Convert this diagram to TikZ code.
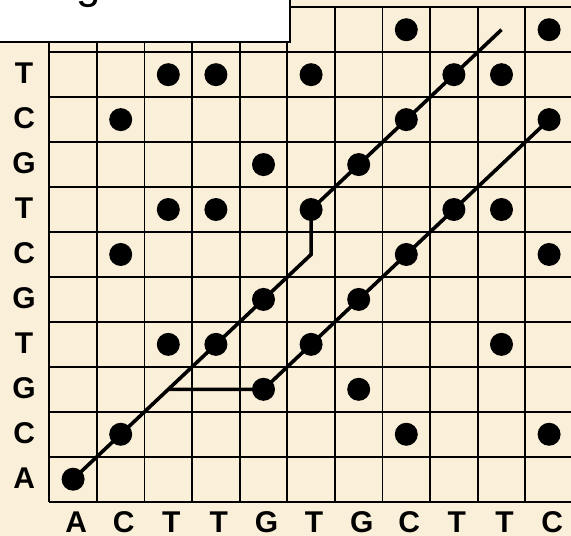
\documentclass[tikz,border=0pt]{standalone}
\usepackage{fontspec}
\setmainfont{Liberation Sans}
\usepackage{xcolor}
\usetikzlibrary{calc, positioning}

\definecolor{parchment}{RGB}{250,239,216}
\tikzset{
    dot/.style={circle, fill=black, inner sep=0pt, minimum size=23pt},
    seqlabel/.style={font=\fontsize{30}{34}\selectfont\bfseries, inner sep=0pt},
    path/.style={line width=3.6pt},
}

\begin{document}
\begin{tikzpicture}[x=1pt, y=1pt]
            % 0. Nền và khung
            \useasboundingbox (0,0) rectangle (571,536);
            \clip (0,0) rectangle (571,536);
            \fill[parchment] (0,0) rectangle (571,536);

            \begin{scope}[shift={(49.3,34.3)}, x=47.6pt, y=44.95pt]
            % 1. Lưới
            \draw[line width=1.8pt, step=1] (0,0) grid (11,11);
            \foreach \c in {1,...,11} {
                \foreach \r in {1,...,11} {
                    \coordinate (p\c-\r) at (\c-0.5,\r-0.5);
                }
            }

            % 2. Nhãn dãy
            \foreach \s [count=\r] in {A,C,G,T,G,C,T,G,C,T} {
                \node[seqlabel] (r\r) at ($(p1-\r)+(-49pt,1pt)$) {\s};
            }
            \foreach \s [count=\c] in {A,C,T,T,G,T,G,C,T,T,C} {
                \node[seqlabel] (c\c) at ($(p\c-1)+(3pt,-43pt)$) {\s};
            }

            % 3. Các điểm trùng
            \foreach \c/\r in {1/1, 2/2, 8/2, 11/2, 5/3, 7/3,
                               3/4, 4/4, 6/4, 10/4, 5/5, 7/5,
                               2/6, 8/6, 11/6, 3/7, 4/7, 6/7, 9/7, 10/7,
                               5/8, 7/8, 2/9, 8/9, 11/9,
                               3/10, 4/10, 6/10, 9/10, 10/10, 8/11, 11/11} {
                \node[dot] (d\c-\r) at (p\c-\r) {};
            }

            % 4. Đường chéo
            \draw[path] (d1-1.center) -- (d2-2.center) -- (p3-3) -- (d4-4.center)
                -- (d5-5.center) -- (p6-6) -- (d6-7.center) -- (d7-8.center)
                -- (d8-9.center) -- (d9-10.center) -- (p10-11);
            \draw[path] (p3-3) -- (d5-3.center) -- (d6-4.center) -- (d7-5.center)
                -- (d8-6.center) -- (d9-7.center) -- (p10-8) -- (d11-9.center);
            \end{scope}

            % 5. Hộp tiêu đề
            \draw[line width=2pt, fill=white] (-5,493.7) rectangle (289.7,545);
            \node[anchor=base west, inner sep=0pt, font=\fontsize{44}{50}\selectfont]
                (title) at (18,537) {length};
        \end{tikzpicture}
\end{document}
